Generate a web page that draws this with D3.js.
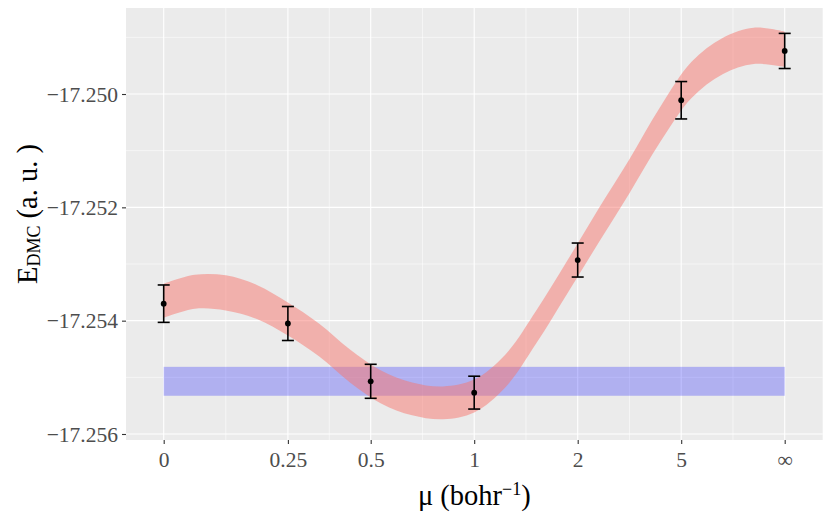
<!DOCTYPE html>
<html>
<head>
<meta charset="utf-8">
<script src="https://cdn.jsdelivr.net/npm/d3@7"></script>
<style>
  body { margin: 0; background: #fff; }
  svg { display: block; font-family: "Liberation Serif", "Times New Roman", serif; }
</style>
</head>
<body>
<svg></svg>
<script>
// chart data
const muLabels = ['0', '0.25', '0.5', '1', '2', '5', '\u221E']
const muValues = [0, 0.25, 0.5, 1, 2, 5, Infinity]
const energies = [-17.25370, -17.25405, -17.25507, -17.25527, -17.25293, -17.25011, -17.24924]
const errors = [0.00033, 0.00030, 0.00030, 0.00029, 0.00030, 0.00033, 0.00031]

// smooth fit band (x in transformed units mu/(1+mu))
const fitT = [0, 0.05, 0.1, 0.15, 0.2, 0.25, 0.3, 0.35, 0.4, 0.45, 0.5, 0.55, 0.6, 0.65, 0.7, 0.75, 0.8, 0.85, 0.9, 0.95, 1]
const fitMean = [-17.25365, -17.25349, -17.25351, -17.25367, -17.25397, -17.25434, -17.25480, -17.25517, -17.25538, -17.25545,
                 -17.25533, -17.25489, -17.25411, -17.25323, -17.25233, -17.25145, -17.25053, -17.24975, -17.24933, -17.24915, -17.24921]
const fitSe = [0.00030, 0.00030, 0.00031, 0.00030, 0.00029, 0.00029, 0.00029, 0.00029, 0.00029, 0.00029, 0.00029,
               0.00029, 0.00029, 0.00029, 0.00030, 0.00030, 0.00031, 0.00032, 0.00032, 0.00032, 0.00031]

// reference energy band
const refEnergy = -17.25507
const refError = 0.000255

const yTicks = [-17.256, -17.254, -17.252, -17.250]
const yMinorTicks = [-17.255, -17.253, -17.251, -17.249]

const width = 830
const height = 519
const panel = { left: 126, right: 822.7, top: 8, bottom: 440 }

let svg = d3.select('svg').attr('width', width).attr('height', height)

// mu -> mu/(1+mu), infinity maps to 1
const muToT = mu => isFinite(mu) ? mu / (1 + mu) : 1

let xScale = d3.scaleLinear().domain([-0.0607, 1.0612]).range([panel.left, panel.right])
let yScale = d3.scaleLinear().domain([-17.256106, -17.248482]).range([panel.bottom, panel.top])

function drawPanel() {
    svg.append('rect')
        .attr('x', panel.left).attr('y', panel.top)
        .attr('width', panel.right - panel.left).attr('height', panel.bottom - panel.top)
        .attr('fill', '#EBEBEB')

    let majorT = muValues.map(muToT)
    let minorT = d3.pairs(majorT).map(([a, b]) => (a + b) / 2)

    let grid = svg.append('g').attr('stroke', '#fff')
    yMinorTicks.forEach(v => {
        grid.append('line').attr('x1', panel.left).attr('x2', panel.right)
            .attr('y1', yScale(v)).attr('y2', yScale(v)).attr('stroke-width', 0.55)
    })
    minorT.forEach(t => {
        grid.append('line').attr('y1', panel.top).attr('y2', panel.bottom)
            .attr('x1', xScale(t)).attr('x2', xScale(t)).attr('stroke-width', 0.55)
    })
    yTicks.forEach(v => {
        grid.append('line').attr('x1', panel.left).attr('x2', panel.right)
            .attr('y1', yScale(v)).attr('y2', yScale(v)).attr('stroke-width', 1.1)
    })
    majorT.forEach(t => {
        grid.append('line').attr('y1', panel.top).attr('y2', panel.bottom)
            .attr('x1', xScale(t)).attr('x2', xScale(t)).attr('stroke-width', 1.1)
    })
}

function drawAxes() {
    let xAxis = d3.axisBottom(xScale)
        .tickValues(muValues.map(muToT))
        .tickFormat((d, i) => muLabels[i])
        .tickSize(4).tickPadding(4)
    let yAxis = d3.axisLeft(yScale)
        .tickValues(yTicks)
        .tickFormat(d3.format('.3f'))
        .tickSize(4).tickPadding(4)

    let gx = svg.append('g')
        .attr('transform', 'translate(0,' + panel.bottom + ')')
        .call(xAxis)
    let gy = svg.append('g')
        .attr('transform', 'translate(' + panel.left + ',0)')
        .call(yAxis)

    ;[gx, gy].forEach(g => {
        g.select('.domain').remove()
        g.selectAll('.tick line').attr('stroke', '#333').attr('stroke-width', 1.1)
        g.selectAll('.tick text')
            .attr('fill', '#4D4D4D')
            .style('font-family', '"Liberation Serif", serif')
            .style('font-size', '21.5px')
    })
    gx.selectAll('.tick text').attr('dy', '0.9em')
    gy.selectAll('.tick text').attr('dy', '0.34em')

    // axis titles
    svg.append('text')
        .attr('x', (panel.left + panel.right) / 2)
        .attr('y', 505)
        .attr('text-anchor', 'middle')
        .style('font-size', '28.5px')
        .attr('fill', '#000')
        .html('\u03BC (bohr<tspan baseline-shift="super" font-size="18px">\u22121</tspan>)')

    svg.append('text')
        .attr('transform', 'translate(36.5,214) rotate(-90)')
        .attr('text-anchor', 'middle')
        .style('font-size', '28.5px')
        .attr('fill', '#000')
        .html('E<tspan baseline-shift="-3" font-size="18px">DMC</tspan><tspan> (a. u. )</tspan>')
}

function drawReference() {
    svg.append('rect')
        .attr('x', xScale(0))
        .attr('width', xScale(1) - xScale(0))
        .attr('y', yScale(refEnergy + refError))
        .attr('height', yScale(refEnergy - refError) - yScale(refEnergy + refError))
        .attr('fill', 'blue')
        .attr('fill-opacity', 0.25)
}

function drawFit() {
    let area = d3.area()
        .x((d, i) => xScale(fitT[i]))
        .y0((d, i) => yScale(fitMean[i] - fitSe[i]))
        .y1((d, i) => yScale(fitMean[i] + fitSe[i]))
        .curve(d3.curveCatmullRom)

    svg.append('path')
        .datum(fitT)
        .attr('d', area)
        .attr('fill', '#F8766D')
        .attr('fill-opacity', 0.5)
}

function drawPoints() {
    let g = svg.append('g')
    let cap = 6
    muValues.forEach((mu, i) => {
        let x = xScale(muToT(mu))
        let yTop = yScale(energies[i] + errors[i])
        let yBot = yScale(energies[i] - errors[i])
        g.append('line').attr('x1', x).attr('x2', x).attr('y1', yTop).attr('y2', yBot)
            .attr('stroke', '#000').attr('stroke-width', 1.6)
        g.append('line').attr('x1', x - cap).attr('x2', x + cap).attr('y1', yTop).attr('y2', yTop)
            .attr('stroke', '#000').attr('stroke-width', 1.6)
        g.append('line').attr('x1', x - cap).attr('x2', x + cap).attr('y1', yBot).attr('y2', yBot)
            .attr('stroke', '#000').attr('stroke-width', 1.6)
        g.append('circle').attr('cx', x).attr('cy', yScale(energies[i])).attr('r', 2.9).attr('fill', '#000')
    })
}

drawPanel()
drawReference()
drawFit()
drawPoints()
drawAxes()
</script>
</body>
</html>
